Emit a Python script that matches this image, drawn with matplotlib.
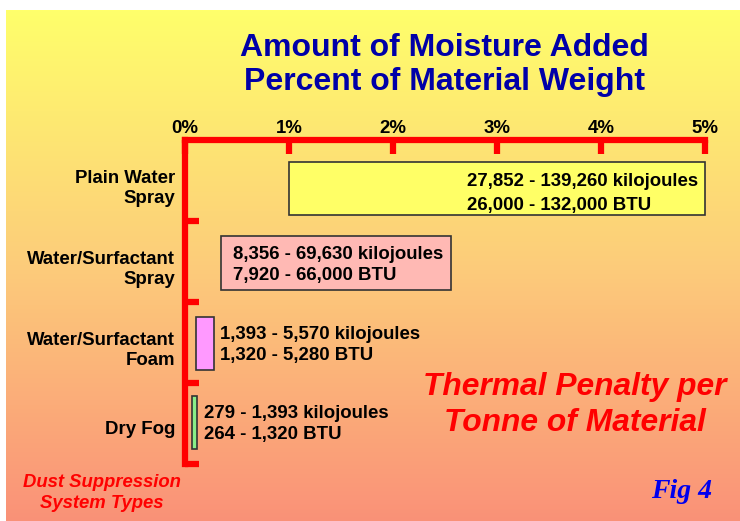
import numpy as np
import matplotlib
matplotlib.use("Agg")
import matplotlib.pyplot as plt
from matplotlib.colors import LinearSegmentedColormap

plt.rcParams["font.family"] = ["Liberation Sans", "DejaVu Sans"]

# data
categories = ["Plain Water\nSpray", "Water/Surfactant\nSpray",
              "Water/Surfactant\nFoam", "Dry Fog"]
moisture_low = [1.0, 0.35, 0.11, 0.07]      # percent of material weight
moisture_high = [5.0, 2.56, 0.28, 0.12]
kj_labels = ["27,852 - 139,260 kilojoules", "8,356 - 69,630 kilojoules",
             "1,393 - 5,570 kilojoules", "279 - 1,393 kilojoules"]
btu_labels = ["26,000 - 132,000 BTU", "7,920 - 66,000 BTU",
              "1,320 - 5,280 BTU", "264 - 1,320 BTU"]
pct_ticks = [0, 1, 2, 3, 4, 5]

bar_colors = ["#FFFF66", "#FFB9B4", "#FF99FF", "#88EE88"]
row_shift = [0.10, 0.02, 0.01, -0.01]

W, H = 740, 521
fig = plt.figure(figsize=(W / 100, H / 100), dpi=100)
fig.patch.set_facecolor("white")

# gradient background panel
bg = fig.add_axes([6 / W, 0, (W - 6) / W, (H - 10) / H])
cmap = LinearSegmentedColormap.from_list(
    "bg", [(0.0, (1.0, 1.0, 0.42)), (0.5, (0.99, 0.80, 0.48)), (1.0, (0.98, 0.57, 0.47))])
grad = np.linspace(0, 1, 256).reshape(-1, 1)
bg.imshow(grad, aspect="auto", cmap=cmap, extent=[0, 1, 1, 0])
bg.set_axis_off()

# main axes: x 0..5 % maps 185..705 px, rows 140..464 px
ax = fig.add_axes([185 / W, (H - 464) / H, 520 / W, 324 / H])
ax.patch.set_alpha(0)
ax.set_xlim(0, 5)
ax.set_ylim(4, 0)

red = "#FF0000"
fs = 13.4
for s in ["bottom", "right"]:
    ax.spines[s].set_visible(False)
for s in ["top", "left"]:
    ax.spines[s].set_color(red)
    ax.spines[s].set_linewidth(4.5)
    ax.spines[s].set_capstyle("projecting")

ax.xaxis.tick_top()
ax.set_xticks(pct_ticks)
ax.set_xticklabels([f"{p}%" for p in pct_ticks])
ax.tick_params(axis="x", direction="in", length=10, width=4.5, color=red,
               pad=2, labelsize=fs)
for lab in ax.get_xticklabels():
    lab.set_fontweight("bold")

rows = np.arange(len(categories))
ax.set_yticks(rows + 1)
ax.set_yticklabels([])
ax.tick_params(axis="y", which="major", direction="in", length=10, width=4.5, color=red)
ax.set_yticks(rows + 0.55, minor=True)
ax.set_yticklabels(categories, minor=True, fontsize=fs, fontweight="bold",
                   linespacing=1.3)
ax.tick_params(axis="y", which="minor", length=0, pad=7)

widths = np.array(moisture_high) - np.array(moisture_low)
yc = rows + 0.5 + np.array(row_shift)
bars = ax.barh(yc, widths, left=moisture_low, height=0.66, color=bar_colors,
               edgecolor="#333333", linewidth=1.2, zorder=3)
for b in bars:
    b.set_clip_on(False)

for i in rows:
    txt = kj_labels[i] + "\n" + btu_labels[i]
    if widths[i] > 3:
        ax.text(moisture_high[i] - 0.07, yc[i] + 0.06, txt, ha="right", ma="left",
                va="center", fontsize=fs, fontweight="bold", linespacing=1.55,
                zorder=4)
    elif widths[i] > 1:
        ax.text(moisture_low[i] + 0.11, yc[i] + 0.02, txt, ha="left", va="center",
                fontsize=fs, fontweight="bold", linespacing=1.3, zorder=4)
    else:
        ax.text(moisture_high[i] + 0.06, yc[i] + 0.02, txt, ha="left", va="center",
                fontsize=fs, fontweight="bold", linespacing=1.3, zorder=4)

fig.text(444 / W, 1 - 65 / H, "Amount of Moisture Added\nPercent of Material Weight",
         ha="center", va="center", fontsize=23, fontweight="bold",
         color="#0000A8", linespacing=1.2)
fig.text(575 / W, 1 - 405 / H, "Thermal Penalty per\nTonne of Material",
         ha="center", va="center", fontsize=22.9, fontweight="bold",
         fontstyle="italic", color=red, linespacing=1.22)
fig.text(102 / W, 1 - 493 / H, "Dust Suppression\nSystem Types",
         ha="center", va="center", fontsize=13.3, fontweight="bold",
         fontstyle="italic", color=red, linespacing=1.3)
fig.text(682 / W, 1 - 492 / H, "Fig 4", ha="center", va="center",
         fontsize=20, fontweight="bold", fontstyle="italic",
         family=["Liberation Serif", "DejaVu Serif"], color="#0000EE")

fig.savefig("out.png", dpi=100)
